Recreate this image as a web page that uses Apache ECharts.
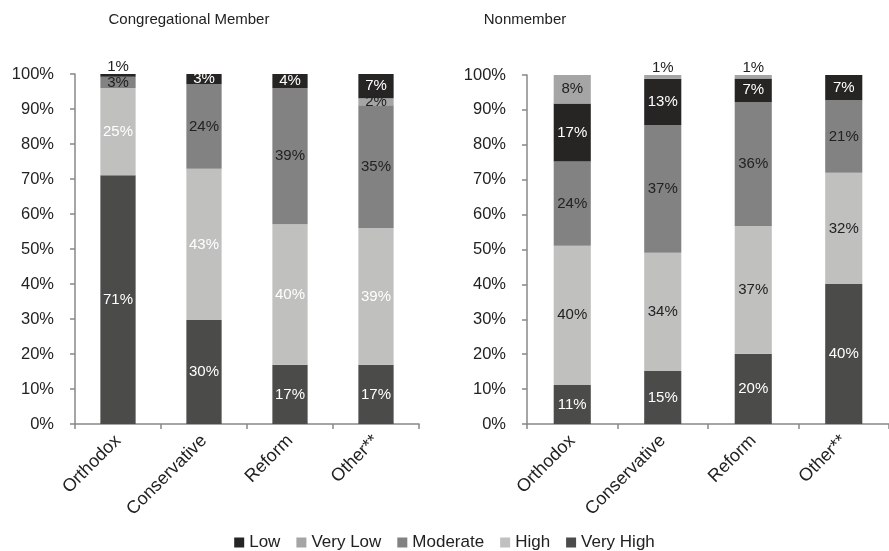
<!DOCTYPE html>
<html>
<head>
<meta charset="utf-8">
<script src="https://cdn.jsdelivr.net/npm/echarts@6/dist/echarts.min.js"></script>
<style>html,body{margin:0;padding:0;background:#fff}#c{width:889px;height:551px}</style>
</head>
<body>
<div id="c"></div>
<script>
var categories = ['Orthodox', 'Conservative', 'Reform', 'Other**'];
var yTicks = [0, 10, 20, 30, 40, 50, 60, 70, 80, 90, 100];

// Congregational Member (percent)
var memVeryHigh = [71.1, 29.7, 16.9, 16.9];
var memHigh     = [24.9, 43.2, 40.2, 39.1];
var memModerate = [3.2, 24.2, 38.9, 35.1];
var memVeryLow  = [0, 0, 0, 2.0];
var memLow      = [0.8, 2.9, 4.0, 6.9];

// Nonmember (percent)
var nonVeryHigh = [11.2, 15.2, 20.1, 40.1];
var nonHigh     = [39.9, 33.9, 36.6, 31.9];
var nonModerate = [24.1, 36.6, 35.5, 20.8];
var nonLow      = [16.6, 13.2, 6.8, 7.2];
var nonVeryLow  = [8.2, 1.1, 1.0, 0];

var colors = {
  'Low': '#262524',
  'Very Low': '#a5a5a5',
  'Moderate': '#828282',
  'High': '#c0c1bf',
  'Very High': '#4b4b49'
};
var FONT = 'Liberation Sans, Arial, sans-serif';

function mkSeries(name, vals, gi, stack, labelColor, isTop) {
  return {
    type: 'bar', name: name, stack: stack,
    xAxisIndex: gi, yAxisIndex: gi,
    barWidth: '41%',
    itemStyle: { color: colors[name] },
    label: {
      show: true, position: 'inside', color: labelColor,
      fontFamily: FONT, fontSize: 15,
      formatter: function (p) { return p.value > 0 ? Math.round(p.value) + '%' : ''; }
    },
    data: vals.map(function (v) {
      if (isTop && v > 0 && v < 1.5) {
        return { value: v, label: { position: 'top', color: '#222', distance: 0 } };
      }
      return v;
    })
  };
}

function xAxis(gi) {
  return {
    type: 'category', gridIndex: gi, data: categories,
    axisLine: { lineStyle: { color: '#888', width: 1.5 } },
    axisTick: { show: true, length: 5, lineStyle: { color: '#888', width: 1.5 } },
    axisLabel: { rotate: 45, color: '#222', fontFamily: FONT, fontSize: 18, margin: 14, interval: 0 }
  };
}
function yAxis(gi) {
  return {
    type: 'value', gridIndex: gi, min: 0, max: 100, interval: 10,
    splitLine: { show: false },
    axisLine: { show: true, lineStyle: { color: '#888', width: 1.5 } },
    axisTick: { show: true, length: 5, lineStyle: { color: '#888', width: 1.5 } },
    axisLabel: { color: '#222', fontFamily: FONT, fontSize: 16.5, margin: 21,
      formatter: function (v) { return yTicks.indexOf(v) >= 0 ? v + '%' : ''; } }
  };
}

var chart = echarts.init(document.getElementById('c'), null, { renderer: 'canvas' });
chart.setOption({
  animation: false,
  backgroundColor: '#fff',
  title: [
    { text: 'Congregational Member', left: 184, top: 7, textAlign: 'center',
      textStyle: { fontFamily: FONT, fontSize: 15, fontWeight: 'normal', color: '#222' } },
    { text: 'Nonmember', left: 520, top: 7, textAlign: 'center',
      textStyle: { fontFamily: FONT, fontSize: 15, fontWeight: 'normal', color: '#222' } }
  ],
  legend: {
    data: ['Low', 'Very Low', 'Moderate', 'High', 'Very High'],
    left: 'center', top: 529,
    itemWidth: 10, itemHeight: 10, itemGap: 16, icon: 'rect',
    textStyle: { fontFamily: FONT, fontSize: 17, color: '#222' }
  },
  grid: [
    { left: 75, top: 74, width: 344, height: 350 },
    { left: 527, top: 75, width: 362, height: 349 }
  ],
  xAxis: [xAxis(0), xAxis(1)],
  yAxis: [yAxis(0), yAxis(1)],
  series: [
    mkSeries('Very High', memVeryHigh, 0, 'm', '#fff', false),
    mkSeries('High', memHigh, 0, 'm', '#fff', false),
    mkSeries('Moderate', memModerate, 0, 'm', '#222', false),
    mkSeries('Very Low', memVeryLow, 0, 'm', '#222', false),
    mkSeries('Low', memLow, 0, 'm', '#fff', true),
    mkSeries('Very High', nonVeryHigh, 1, 'n', '#fff', false),
    mkSeries('High', nonHigh, 1, 'n', '#222', false),
    mkSeries('Moderate', nonModerate, 1, 'n', '#222', false),
    mkSeries('Low', nonLow, 1, 'n', '#fff', false),
    mkSeries('Very Low', nonVeryLow, 1, 'n', '#222', true)
  ]
});
</script>
</body>
</html>
